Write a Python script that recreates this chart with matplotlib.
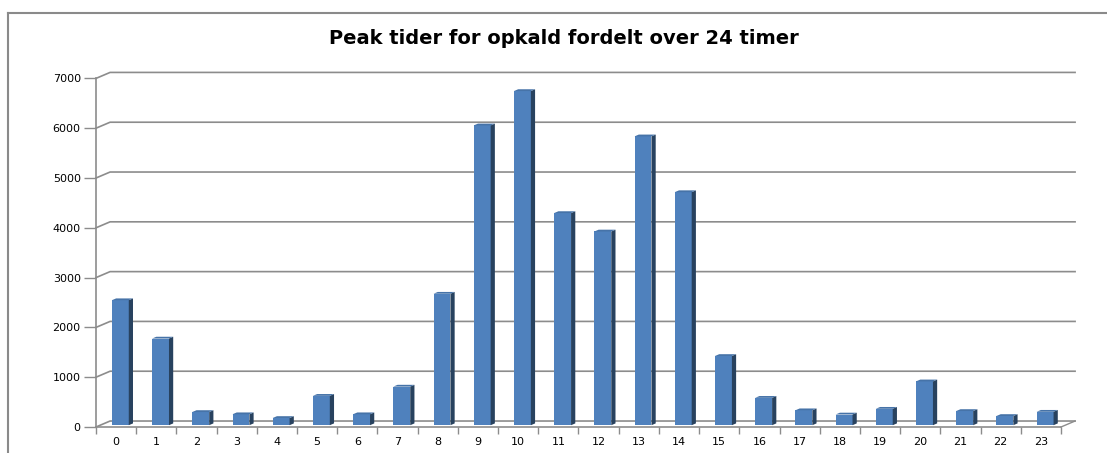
import numpy as np
import matplotlib.pyplot as plt
from matplotlib.patches import Polygon
from matplotlib.lines import Line2D

hours = [str(h) for h in range(24)]
calls = [2510, 1740, 265, 220, 145, 590, 220, 775, 2640, 6020, 6710, 4260,
         3890, 5800, 4680, 1390, 550, 300, 215, 330, 880, 285, 185, 270]
y_ticks = [0, 1000, 2000, 3000, 4000, 5000, 6000, 7000]
title = "Peak tider for opkald fordelt over 24 timer"

FRONT = '#4F81BD'
SIDE = '#28425F'
TOP = '#4673A8'
GRID = '#8C8C8C'

fig = plt.figure(figsize=(11.07, 4.53), dpi=100)
W, H = 1107, 453
ax = fig.add_axes([96 / W, (H - 427) / H, 965 / W, (427 - 78.4) / H])
ax.set_xlim(-0.5, 23.5)
ax.set_ylim(0, 7000)

# 3d depth of the plot box, in data units
DX, DY = 0.35, 120
# bars sit part way back, and have a little depth of their own
bx, by = 0.3 * DX, 0.3 * DY
sx, sy = 0.3 * DX, 0.3 * DY
bw = 0.42

# back wall gridlines + side wall diagonals
for t in y_ticks:
    ax.add_line(Line2D([-0.5, -0.5 + DX, 23.5 + DX], [t, t + DY, t + DY],
                       color=GRID, lw=1.2, clip_on=False, zorder=1))
# floor
ax.add_line(Line2D([23.5, 23.5 + DX], [0, DY], color=GRID, lw=1.0,
                   clip_on=False, zorder=1))

x = np.arange(len(calls))
for xi, v in zip(x, calls):
    x0 = xi - bw / 2 + bx
    x1 = x0 + bw
    front = Polygon([(x0, by), (x1, by), (x1, v + by), (x0, v + by)],
                    closed=True, fc=FRONT, ec='none', clip_on=False, zorder=3)
    side = Polygon([(x1, by), (x1 + sx, by + sy), (x1 + sx, v + by + sy),
                    (x1, v + by)], closed=True, fc=SIDE, ec='none',
                   clip_on=False, zorder=3)
    top = Polygon([(x0, v + by), (x1, v + by), (x1 + sx, v + by + sy),
                   (x0 + sx, v + by + sy)], closed=True, fc=TOP, ec='none',
                  clip_on=False, zorder=3)
    ax.add_patch(front)
    ax.add_patch(side)
    ax.add_patch(top)

for s in ['top', 'right']:
    ax.spines[s].set_visible(False)
for s in ['left', 'bottom']:
    ax.spines[s].set_color(GRID)
    ax.spines[s].set_linewidth(1.2)
    ax.spines[s].set_zorder(4)

ax.set_yticks(y_ticks)
ax.set_yticklabels([str(t) for t in y_ticks])
ax.set_xticks(x)
ax.set_xticklabels(hours)
ax.set_xticks(np.arange(-0.5, 24, 1), minor=True)
ax.tick_params(axis='y', length=9, width=1, color=GRID, labelsize=8, pad=2)
ax.tick_params(axis='x', which='major', length=0, labelsize=8, pad=7)
ax.tick_params(axis='x', which='minor', length=5, width=1, color=GRID)
ax.patch.set_alpha(0)

fig.text(564 / W, 1 - 38 / H, title, ha='center', va='center',
         fontsize=14, fontweight='bold')

# chart frame (cut off at right/bottom in the original)
fig.add_artist(Line2D([8 / W, 8 / W], [0, 1 - 13 / H], transform=fig.transFigure,
                      color='#8A8A8A', lw=1.5))
fig.add_artist(Line2D([8 / W, 1], [1 - 13 / H, 1 - 13 / H],
                      transform=fig.transFigure, color='#8A8A8A', lw=1.5))

fig.savefig('out.png', dpi=100)
